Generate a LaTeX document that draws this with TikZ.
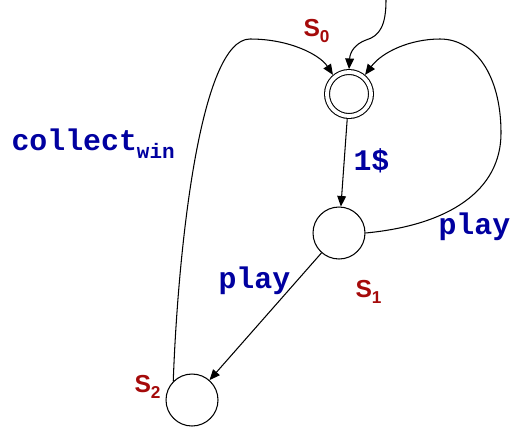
\documentclass[tikz,border=0pt]{standalone}
\usepackage{fontspec}
\setsansfont{Liberation Sans}
\setmonofont{Liberation Mono}
\usetikzlibrary{arrows.meta}

\definecolor{actblue}{RGB}{0,0,160}
\definecolor{statered}{RGB}{165,10,10}
\newcommand{\lowsub}[1]{\raisebox{-0.12em}{\textsubscript{#1}}}

\begin{document}
\begin{tikzpicture}[x=0.02cm,y=-0.02cm,line width=0.6pt,
  >={Triangle[length=6pt,width=5pt]},
  plainstate/.style={circle,draw,minimum size=1.04cm,inner sep=0pt},
  goalstate/.style={circle,draw,double,double distance=2.2pt,minimum size=0.88cm,inner sep=0pt,outer sep=1.7pt},
  actlabel/.style={anchor=base west,inner sep=0pt,text=actblue,font=\fontsize{17}{20}\selectfont\ttfamily\bfseries},
  statelabel/.style={anchor=base west,inner sep=0pt,text=statered,font=\fontsize{14}{17}\selectfont\sffamily\bfseries}]
\useasboundingbox (0,0) rectangle (516,427);

% states
\node[goalstate] (s0) at (349,94) {};
\node[plainstate] (s1) at (339,233) {};
\node[plainstate] (s2) at (192,400) {};

\node[statelabel] (n0) at (303,36) {S\lowsub{0}};
\node[statelabel] (n1) at (355,297) {S\lowsub{1}};
\node[statelabel] (n2) at (134,392) {S\lowsub{2}};

% start arrow
\coordinate (start) at (386,0);
\coordinate (kink) at (366,40);
\draw[->] (start) .. controls (386,25) and (380,36) .. (kink)
  .. controls (355,44) and (350,52) .. (s0.north);

% transitions
\draw[->] (s0) -- (s1);
\draw[->] (s1) -- (s2);

\coordinate (r1) at (501,133);
\coordinate (r2) at (440,39);
\draw[->] (s1.east) .. controls (450,225) and (501,190) .. (r1)
  .. controls (501,75) and (475,39) .. (r2)
  .. controls (410,39) and (382,52) .. (s0.50);

\coordinate (l1) at (250,39);
\draw[->] (s2.135) .. controls (178,250) and (200,39) .. (l1)
  .. controls (290,39) and (320,55) .. (s0.130);

% labels
\node[actlabel] (a0) at (11,150) {collect\lowsub{win}};
\node[actlabel] (a1) at (353,170) {1\$};
\node[actlabel] (a2) at (438,234) {play};
\node[actlabel] (a3) at (218,288) {play};
\end{tikzpicture}
\end{document}
